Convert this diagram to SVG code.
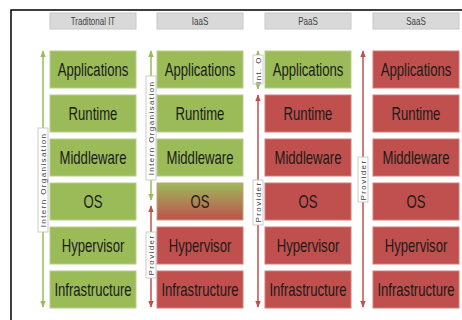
<svg xmlns="http://www.w3.org/2000/svg" width="462" height="320" viewBox="0 0 462 320">
<defs>
<style>
.g{fill:#9BBB59;stroke:#B7CF8A;stroke-width:1}
.r{fill:#C0504D;stroke:#D27D7A;stroke-width:1}
.hd{fill:#D9D9D9;stroke:#C8C8C8;stroke-width:1}
.ht{font-family:"Liberation Sans",Arial,sans-serif;font-size:10.5px;fill:#404040;text-anchor:middle}
.t{font-family:"Liberation Sans",Arial,sans-serif;font-size:17.5px;fill:#1a1a1a;text-anchor:middle}
.lb{fill:#ffffff;stroke:#BFBFBF;stroke-width:0.8}
.lt{font-family:"Liberation Sans",Arial,sans-serif;font-size:8px;fill:#404040;text-anchor:middle;letter-spacing:1.4px}
.ag{stroke:#9BBB59;stroke-width:1.5;fill:none}
.ar{stroke:#C0504D;stroke-width:1.5;fill:none}
</style>
<marker id="mg" viewBox="0 0 10 10" refX="9" refY="5" markerWidth="7" markerHeight="7" markerUnits="userSpaceOnUse" orient="auto-start-reverse"><path d="M0,1 L10,5 L0,9 z" fill="#9BBB59"/></marker>
<marker id="mr" viewBox="0 0 10 10" refX="9" refY="5" markerWidth="7" markerHeight="7" markerUnits="userSpaceOnUse" orient="auto-start-reverse"><path d="M0,1 L10,5 L0,9 z" fill="#C0504D"/></marker>
<linearGradient id="os" x1="0" y1="0" x2="0" y2="1"><stop offset="0" stop-color="#9BBB59"/><stop offset="1" stop-color="#C0504D"/></linearGradient>
</defs>
<rect width="462" height="320" fill="#ffffff"/>
<path d="M11,321 V10 H463" fill="none" stroke="#000" stroke-width="1.5"/>

<g id="col-traditional">
<rect class="hd" x="50" y="13" width="86" height="16"/><text class="ht" transform="translate(93,25) scale(0.76,1)">Traditonal IT</text>
<rect class="g" x="50" y="51" width="86" height="37"/><text class="t" transform="translate(93,76) scale(0.75,1)">Applications</text>
<rect class="g" x="50" y="95" width="86" height="37"/><text class="t" transform="translate(93,120) scale(0.75,1)">Runtime</text>
<rect class="g" x="50" y="139" width="86" height="37"/><text class="t" transform="translate(93,164) scale(0.75,1)">Middleware</text>
<rect class="g" x="50" y="183" width="86" height="37"/><text class="t" transform="translate(93,208) scale(0.75,1)">OS</text>
<rect class="g" x="50" y="227" width="86" height="37"/><text class="t" transform="translate(93,252) scale(0.75,1)">Hypervisor</text>
<rect class="g" x="50" y="271" width="86" height="37"/><text class="t" transform="translate(93,296) scale(0.75,1)">Infrastructure</text>
</g>

<g id="col-iaas">
<rect class="hd" x="157" y="13" width="86" height="16"/><text class="ht" transform="translate(200,25) scale(0.76,1)">IaaS</text>
<rect class="g" x="157" y="51" width="86" height="37"/><text class="t" transform="translate(200,76) scale(0.75,1)">Applications</text>
<rect class="g" x="157" y="95" width="86" height="37"/><text class="t" transform="translate(200,120) scale(0.75,1)">Runtime</text>
<rect class="g" x="157" y="139" width="86" height="37"/><text class="t" transform="translate(200,164) scale(0.75,1)">Middleware</text>
<rect x="157" y="183" width="86" height="37" fill="url(#os)" stroke="#C9A07A" stroke-width="1"/><text class="t" transform="translate(200,208) scale(0.75,1)">OS</text>
<rect class="r" x="157" y="227" width="86" height="37"/><text class="t" transform="translate(200,252) scale(0.75,1)">Hypervisor</text>
<rect class="r" x="157" y="271" width="86" height="37"/><text class="t" transform="translate(200,296) scale(0.75,1)">Infrastructure</text>
</g>

<g id="col-paas">
<rect class="hd" x="265" y="13" width="86" height="16"/><text class="ht" transform="translate(308,25) scale(0.76,1)">PaaS</text>
<rect class="g" x="265" y="51" width="86" height="37"/><text class="t" transform="translate(308,76) scale(0.75,1)">Applications</text>
<rect class="r" x="265" y="95" width="86" height="37"/><text class="t" transform="translate(308,120) scale(0.75,1)">Runtime</text>
<rect class="r" x="265" y="139" width="86" height="37"/><text class="t" transform="translate(308,164) scale(0.75,1)">Middleware</text>
<rect class="r" x="265" y="183" width="86" height="37"/><text class="t" transform="translate(308,208) scale(0.75,1)">OS</text>
<rect class="r" x="265" y="227" width="86" height="37"/><text class="t" transform="translate(308,252) scale(0.75,1)">Hypervisor</text>
<rect class="r" x="265" y="271" width="86" height="37"/><text class="t" transform="translate(308,296) scale(0.75,1)">Infrastructure</text>
</g>

<g id="col-saas">
<rect class="hd" x="373" y="13" width="86" height="16"/><text class="ht" transform="translate(416,25) scale(0.76,1)">SaaS</text>
<rect class="r" x="373" y="51" width="86" height="37"/><text class="t" transform="translate(416,76) scale(0.75,1)">Applications</text>
<rect class="r" x="373" y="95" width="86" height="37"/><text class="t" transform="translate(416,120) scale(0.75,1)">Runtime</text>
<rect class="r" x="373" y="139" width="86" height="37"/><text class="t" transform="translate(416,164) scale(0.75,1)">Middleware</text>
<rect class="r" x="373" y="183" width="86" height="37"/><text class="t" transform="translate(416,208) scale(0.75,1)">OS</text>
<rect class="r" x="373" y="227" width="86" height="37"/><text class="t" transform="translate(416,252) scale(0.75,1)">Hypervisor</text>
<rect class="r" x="373" y="271" width="86" height="37"/><text class="t" transform="translate(416,296) scale(0.75,1)">Infrastructure</text>
</g>

<g id="connectors">
<line class="ag" x1="43" y1="51" x2="43" y2="307" marker-start="url(#mg)" marker-end="url(#mg)"/>
<line class="ag" x1="151" y1="51" x2="151" y2="200" marker-start="url(#mg)" marker-end="url(#mg)"/>
<line class="ar" x1="151" y1="206" x2="151" y2="307" marker-start="url(#mr)" marker-end="url(#mr)"/>
<line class="ag" x1="258" y1="51" x2="258" y2="89" marker-start="url(#mg)" marker-end="url(#mg)"/>
<line class="ar" x1="258" y1="95" x2="258" y2="307" marker-start="url(#mr)" marker-end="url(#mr)"/>
<line class="ar" x1="363" y1="51" x2="363" y2="307" marker-start="url(#mr)" marker-end="url(#mr)"/>
</g>

<g id="labels">
<rect class="lb" x="38" y="128" width="10" height="104"/>
<text class="lt" transform="translate(46,180) rotate(-90)" x="0" y="0">Intern Organisation</text>
<rect class="lb" x="146" y="76" width="10" height="104"/>
<text class="lt" transform="translate(154,128) rotate(-90)" x="0" y="0">Intern Organisation</text>
<rect class="lb" x="146" y="232" width="10" height="46"/>
<text class="lt" transform="translate(154,255) rotate(-90)" x="0" y="0">Provider</text>
<rect class="lb" x="253" y="55" width="10" height="29"/>
<text class="lt" transform="translate(261,70) rotate(-90)" x="0" y="0">Int. O</text>
<rect class="lb" x="253" y="180" width="10" height="45"/>
<text class="lt" transform="translate(261,202) rotate(-90)" x="0" y="0">Provider</text>
<rect class="lb" x="358" y="157" width="10" height="45"/>
<text class="lt" transform="translate(366,180) rotate(-90)" x="0" y="0">Provider</text>
</g>
</svg>
